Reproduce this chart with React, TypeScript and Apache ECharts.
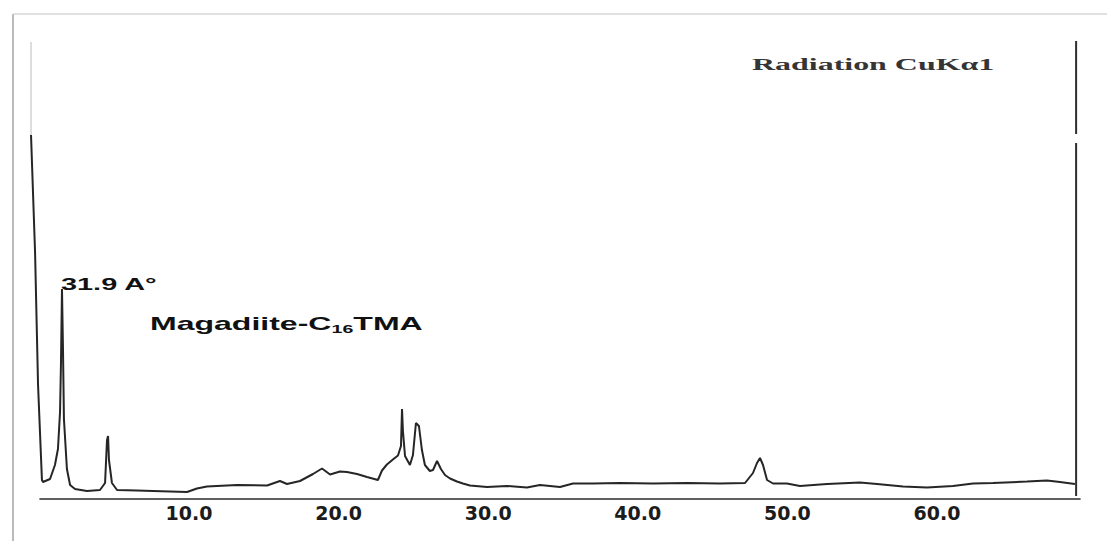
import React, { useEffect, useRef } from "react";
import * as echarts from "echarts";

// 2θ (degrees)
const twoTheta = [
  -0.56, -0.29, -0.09, 0.17, 0.24, 0.71, 1.04, 1.24, 1.38, 1.44, 1.51, 1.58, 1.64, 1.84, 2.05, 2.38,
  3.18, 4.05, 4.39, 4.52, 4.59, 4.65, 4.85, 5.19, 6.52, 7.59, 9.87, 10.53, 11.2, 13.21, 15.22, 16.08,
  16.55, 17.42, 18.29, 18.89, 19.43, 20.09, 20.56, 21.23, 21.9, 22.63, 22.9, 23.23, 23.63, 23.97,
  24.17, 24.24, 24.3, 24.44, 24.77, 24.97, 25.17, 25.37, 25.57, 25.77, 26.1, 26.31, 26.58, 26.84,
  27.11, 27.45, 27.91, 28.31, 28.78, 29.92, 31.26, 32.59, 33.46, 34.8, 35.67, 37.0, 38.81, 41.02,
  43.29, 45.49, 47.17, 47.7, 47.97, 48.17, 48.37, 48.64, 49.04, 49.97, 50.84, 52.65, 54.85, 55.99,
  57.73, 59.33, 61.07, 62.41, 63.74, 66.02, 67.35, 68.22, 69.22,
];

// intensity (a.u.)
const intensity = [
  364, 247, 114, 19, 17, 20, 34, 50, 87, 134, 210, 147, 80, 30, 14, 10,
  8, 9, 16, 59, 63, 39, 16, 9, 8.5, 8, 7, 10.5, 12.5, 14, 13.5, 18,
  15, 18, 25, 30.5, 24.5, 27.5, 27, 25, 22, 19, 28.5, 34.5, 39.5, 43.5,
  53, 90, 68, 43, 34, 44, 76, 73, 49, 34, 28, 29, 38, 30,
  24, 20.5, 17.5, 15.5, 13.5, 12, 13, 11.5, 14, 12, 15.5, 15.5, 16, 15.5,
  16, 15.5, 16, 26, 36, 41, 34, 19, 15.5, 15.5, 13, 15, 16.5, 15,
  12.5, 11.5, 13, 15.5, 16, 17.5, 18.5, 17, 15,
];

const tickLabels = [10, 20, 30, 40, 50, 60];

// drawn baseline (x axis line) extent
const axisStart = 0;
const axisEnd = 69.6;

// right frame line (x position and its two pieces, in intensity units)
const frameX = 69.3;
const frameLower = [3, 356];
const frameUpper = [365, 458];

// faint continuation of the direct-beam line
const beamGuideX = -0.56;
const beamGuide = [364, 457];

const peakLabel = "31.9 A°";
const sampleName = ["Magadiite-C", "16", "TMA"];
const radiationLabel = "Radiation CuKα1";

function segment(points: number[][], color: string, width: number) {
  return {
    type: "line",
    data: points,
    clip: false,
    smooth: false,
    showSymbol: false,
    symbol: "none",
    silent: true,
    lineStyle: { color, width },
  };
}

export default function App() {
  const ref = useRef<HTMLDivElement>(null);

  useEffect(() => {
    const chart = echarts.init(ref.current as HTMLDivElement, null, { renderer: "svg" });
    const data = twoTheta.map((x, i) => [x, intensity[i]]);

    chart.setOption({
      animation: false,
      backgroundColor: "#ffffff",
      grid: { left: 30.42, right: 26.4, top: 33, bottom: 42, outerBoundsMode: "none" },
      xAxis: {
        type: "value",
        min: -0.6,
        max: 69.6,
        axisLine: { show: false },
        axisTick: { show: false },
        splitLine: { show: false },
        axisLabel: {
          customValues: tickLabels,
          formatter: (v: number) => v.toFixed(1),
          margin: 4,
          fontFamily: "DejaVu Sans",
          fontWeight: "bold",
          fontSize: 19,
          color: "#1c1c1c",
        },
      },
      yAxis: { type: "value", min: 0, max: 466, show: false },
      series: [
        segment([[axisStart, 0], [axisEnd, 0]], "#2b2b2b", 1.5),
        {
          name: "Magadiite-C16TMA",
          type: "line",
          data,
          clip: false,
          smooth: false,
          showSymbol: false,
          symbol: "none",
          lineStyle: { color: "#262626", width: 2 },
        },
        segment([[frameX, frameLower[0]], [frameX, frameLower[1]]], "#2e2e2e", 2),
        segment([[frameX, frameUpper[0]], [frameX, frameUpper[1]]], "#2e2e2e", 2),
        segment([[beamGuideX, beamGuide[0]], [beamGuideX, beamGuide[1]]], "#bcbcbc", 1),
      ],
      graphic: [
        { type: "line", shape: { x1: 13, y1: 14, x2: 13, y2: 541 }, style: { stroke: "#a3a3a3", lineWidth: 1.5 } },
        { type: "line", shape: { x1: 13, y1: 14, x2: 1107, y2: 14 }, style: { stroke: "#d6d6d6", lineWidth: 1.5 } },
        {
          type: "text",
          x: 61,
          y: 284,
          scaleX: 1.7,
          style: {
            text: peakLabel,
            font: 'bold 17px "Liberation Sans"',
            fill: "#111111",
            align: "left",
            verticalAlign: "middle",
          },
        },
        {
          type: "text",
          x: 150,
          y: 324,
          scaleX: 1.78,
          style: {
            text: `{a|${sampleName[0]}}{s|${sampleName[1]}}{a|${sampleName[2]}}`,
            align: "left",
            verticalAlign: "middle",
            rich: {
              a: { fontFamily: "Liberation Sans", fontWeight: "bold", fontSize: 18, lineHeight: 22, fill: "#111111", color: "#111111" },
              s: { fontFamily: "Liberation Sans", fontWeight: "bold", fontSize: 11, lineHeight: 15, verticalAlign: "bottom", fill: "#111111", color: "#111111" },
            },
          },
        },
        {
          type: "text",
          x: 752,
          y: 64.5,
          scaleX: 1.88,
          style: {
            text: radiationLabel,
            font: 'bold 17px "Liberation Serif"',
            fill: "#353535",
            align: "left",
            verticalAlign: "middle",
          },
        },
      ],
    });

    return () => chart.dispose();
  }, []);

  return <div ref={ref} style={{ position: "fixed", left: 0, top: 0, width: 1107, height: 541 }} />;
}
